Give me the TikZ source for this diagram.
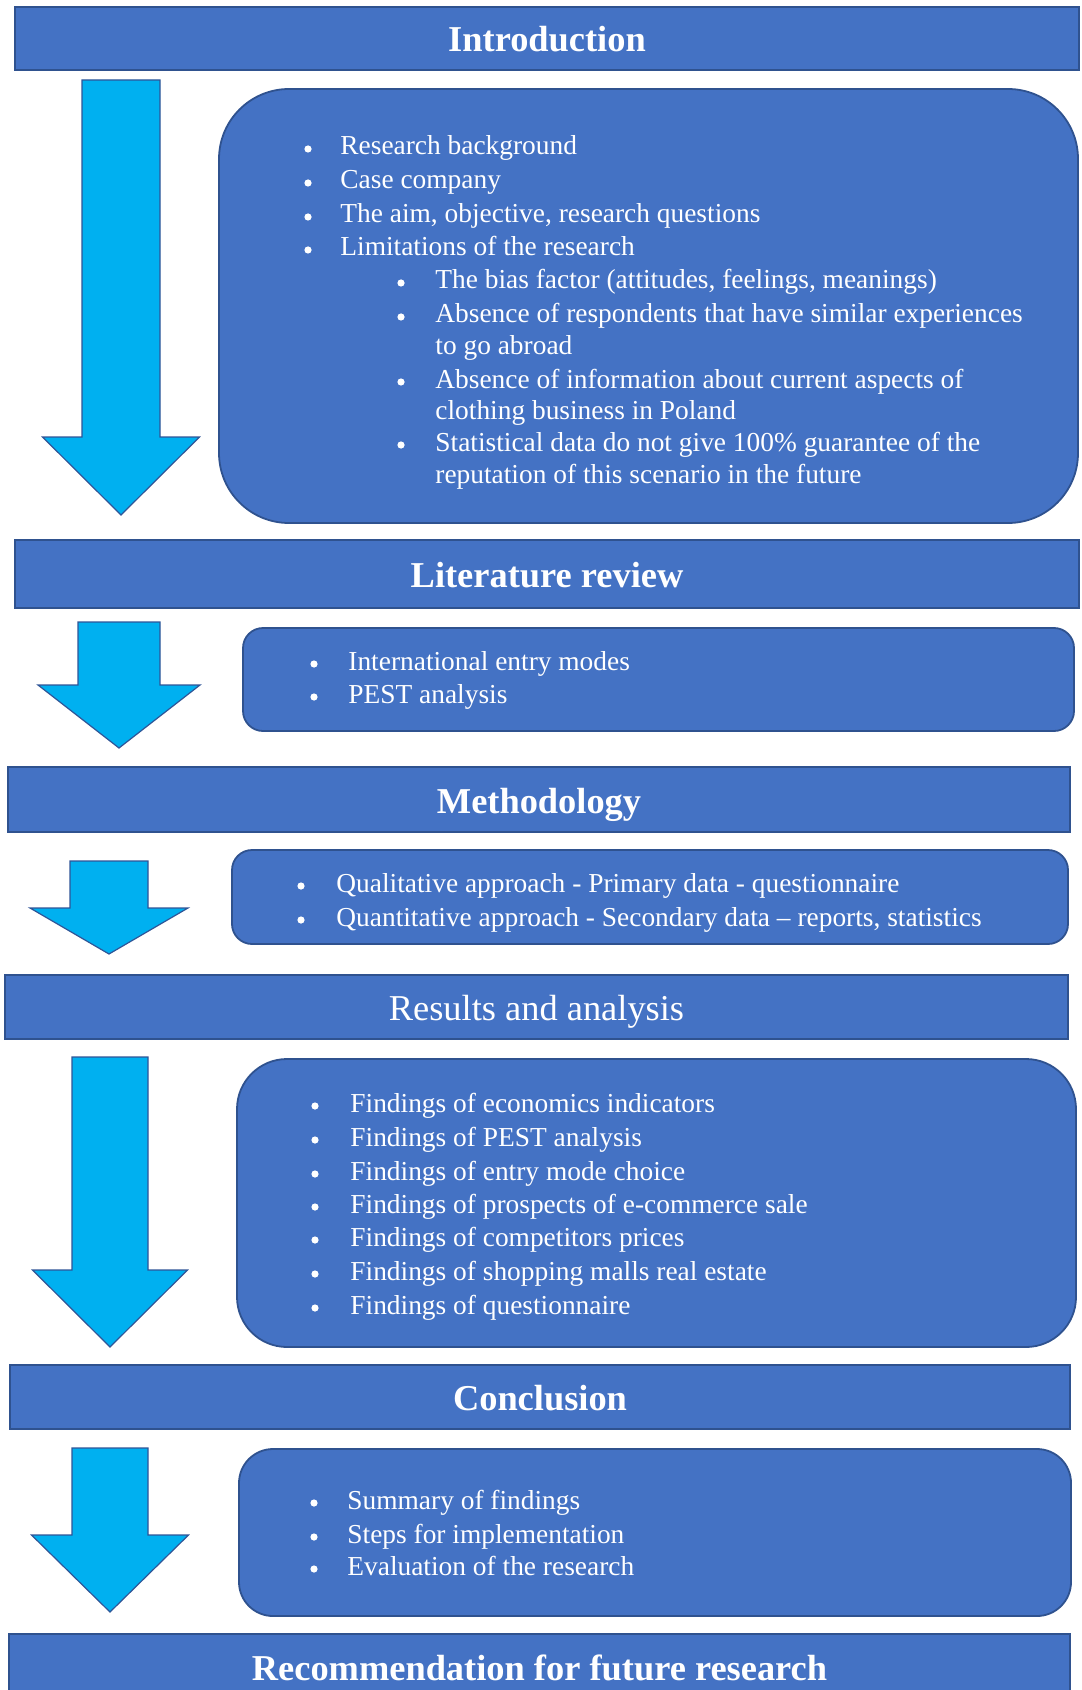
\documentclass[tikz,border=0pt]{standalone}
\usepackage{fontspec}
\setmainfont{Liberation Serif}
\definecolor{hdrblue}{HTML}{4472C4}
\definecolor{edgeblue}{HTML}{2F528F}
\definecolor{arrowcyan}{HTML}{00B0F0}
\definecolor{arrowedge}{HTML}{2F5597}

% block arrow pointing down: centre x, top y, head y, tip y, shaft half width, head half width
\newcommand\flowarrow[6]{%
  \draw[flow] (#1-#5,#2) -- (#1+#5,#2) -- (#1+#5,#3) -- (#1+#6,#3) -- (#1,#4)
    -- (#1-#6,#3) -- (#1-#5,#3) -- cycle;}
% bulleted line: name, bullet x, text x, line centre y, text
\newcommand\entry[5]{%
  \node[bul] (#1b) at (#2,#4+1) {};
  \node[item] (#1) at (#3,#4+7) {#5};}
% continuation line of a bulleted entry
\newcommand\cont[4]{\node[item] (#1) at (#2,#3+7) {#4};}

\begin{document}
\begin{tikzpicture}[x=0.5pt,y=-0.5pt,
  header/.style={draw=edgeblue, fill=hdrblue, line width=0.9pt, text=white,
    font=\fontsize{18.2}{22}\selectfont\bfseries, inner sep=0pt,
    text height=14pt, text depth=0.5pt},
  panel/.style={draw=edgeblue, fill=hdrblue, line width=0.9pt, inner sep=0pt},
  item/.style={anchor=base west, text=white, font=\fontsize{13.7}{16.7}\selectfont, inner sep=0pt},
  bul/.style={circle, fill=white, minimum size=3.6pt, inner sep=0pt},
  flow/.style={draw=arrowedge, fill=arrowcyan, line width=0.6pt, line join=miter}]
\useasboundingbox (0,0) rectangle (1081,1690);
\clip (0,0) rectangle (1081,1690);

% section headers
\node[header, minimum width=532pt, minimum height=31.5pt] (intro) at (547,38.5) {Introduction};
\node[header, minimum width=532pt, minimum height=34pt] (lit) at (547,574) {Literature review};
\node[header, minimum width=531pt, minimum height=32.5pt] (meth) at (539,799.5) {Methodology};
\node[header, minimum width=531.5pt, minimum height=32pt, font=\fontsize{18.2}{22}\selectfont\mdseries] (res) at (536.5,1007) {Results and analysis};
\node[header, minimum width=530pt, minimum height=32pt] (concl) at (540,1397) {Conclusion};
\node[header, minimum width=530.5pt, minimum height=33pt] (rec) at (539.5,1667) {Recommendation for future research};

% content panels
\node[panel, minimum width=429.5pt, minimum height=217pt, rounded corners=35pt] (p1) at (648.5,306) {};
\node[panel, minimum width=415.5pt, minimum height=51.5pt, rounded corners=10pt] (p2) at (658.5,679.5) {};
\node[panel, minimum width=418pt, minimum height=47pt, rounded corners=10pt] (p3) at (650,897) {};
\node[panel, minimum width=419.5pt, minimum height=144pt, rounded corners=25pt] (p4) at (656.5,1203) {};
\node[panel, minimum width=416pt, minimum height=83.5pt, rounded corners=17pt] (p5) at (655,1532.5) {};

% down arrows
\flowarrow{121}{80}{437}{515}{39}{78.5}
\flowarrow{119}{622}{685}{748}{41}{81}
\flowarrow{109}{861}{908}{954}{39}{79}
\flowarrow{110}{1057}{1270}{1347}{38}{77.5}
\flowarrow{110}{1448}{1535}{1612}{38}{78.5}

% introduction
\entry{a1}{308}{340}{148}{Research background}
\entry{a2}{308}{340}{182}{Case company}
\entry{a3}{308}{340}{216}{The aim, objective, research questions}
\entry{a4}{308}{340}{249}{Limitations of the research}
\entry{a5}{401}{435}{282}{The bias factor (attitudes, feelings, meanings)}
\entry{a6}{401}{435}{316}{Absence of respondents that have similar experiences}
\cont{a6c}{435}{348}{to go abroad}
\entry{a7}{401}{435}{381}{Absence of information about current aspects of}
\cont{a7c}{435}{412}{clothing business in Poland}
\entry{a8}{401}{435}{444}{Statistical data do not give 100\% guarantee of the}
\cont{a8c}{435}{476}{reputation of this scenario in the future}

% literature review
\entry{b1}{314}{348}{663}{International entry modes}
\entry{b2}{314}{348}{696}{PEST analysis}

% methodology
\entry{c1}{301}{336}{885}{Qualitative approach - Primary data - questionnaire}
\entry{c2}{301}{336}{919}{Quantitative approach - Secondary data – reports, statistics}

% results and analysis
\entry{d1}{315}{350}{1105}{Findings of economics indicators}
\entry{d2}{315}{350}{1139}{Findings of PEST analysis}
\entry{d3}{315}{350}{1173}{Findings of entry mode choice}
\entry{d4}{315}{350}{1206}{Findings of prospects of e-commerce sale}
\entry{d5}{315}{350}{1239}{Findings of competitors prices}
\entry{d6}{315}{350}{1273}{Findings of shopping malls real estate}
\entry{d7}{315}{350}{1307}{Findings of questionnaire}

% conclusion
\entry{e1}{314}{347}{1502}{Summary of findings}
\entry{e2}{314}{347}{1536}{Steps for implementation}
\entry{e3}{314}{347}{1568}{Evaluation of the research}
\end{tikzpicture}
\end{document}
